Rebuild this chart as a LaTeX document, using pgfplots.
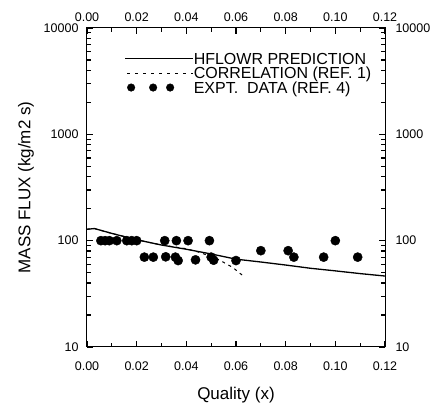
\documentclass[border=0pt]{standalone}
\usepackage{pgfplots}
\pgfplotsset{compat=1.18}
\usepackage{fontspec}
\setmainfont{Liberation Sans}
\pgfplotsset{
  common/.style={
    scale only axis, width=298pt, height=319pt,
    at={(0,0)}, anchor=south west,
    xmin=0, xmax=0.12, ymin=10, ymax=10000,
    xtick={0,0.02,...,0.12},
    minor xtick={0.01,0.03,...,0.11},
    log ticks with fixed point,
    /pgf/number format/1000 sep={},
    xtick align=inside, ytick align=inside,
    major tick length=6pt, minor tick length=4.5pt,
    /pgf/number format/assume math mode=true,
    xticklabel={\pgfmathprintnumber[fixed,fixed zerofill,precision=2]{\tick}},
    tick label style={font=\fontsize{12.5}{13}\selectfont},
    axis line style={line width=1pt},
    every tick/.append style={black, line width=1.2pt},
    every minor tick/.append style={black, line width=1.2pt},
    every major tick/.append style={black, line width=1.2pt},
  }
}
\begin{document}
\begin{tikzpicture}
\begin{semilogyaxis}[common,
  xlabel={Quality (x)},
  ylabel={MASS FLUX (kg/m2 s)},
  label style={font=\fontsize{17}{18}\selectfont},
  xlabel style={yshift=-10pt},
  ylabel style={yshift=3pt},
  xticklabel style={yshift=-11pt},
  yticklabel style={xshift=-5pt},
  legend style={at={(0.115,0.93)}, anchor=north west, draw=none, fill=none,
    font=\fontsize{16}{17}\selectfont, row sep=2.5pt,
    nodes={inner sep=0pt, text height=11.5pt, text depth=0.5pt}},
  legend cell align=left,
]
\addplot[black, line width=1.3pt, no marks,
  legend image code/.code={\draw[black,line width=1.3pt] (0pt,0pt) -- (68pt,0pt);}]
  coordinates {(0,128) (0.003,130) (0.01,117) (0.02,102) (0.03,91) (0.04,83)
  (0.05,75) (0.06,67) (0.07,63) (0.08,59) (0.09,55) (0.10,52) (0.11,49) (0.12,46.5)};
\addlegendentry{HFLOWR PREDICTION}
\addplot[black, line width=1pt, no marks, dash pattern=on 3pt off 4pt,
  legend image code/.code={\draw[black,line width=1pt,dash pattern=on 3pt off 5pt] (2pt,0pt) -- (68pt,0pt);}]
  coordinates {(0,128) (0.003,130) (0.01,117) (0.02,102) (0.03,91) (0.04,84)
  (0.045,78) (0.05,71) (0.0527,67) (0.0587,56) (0.0627,47)};
\addlegendentry{CORRELATION (REF. 1)}
\addplot[only marks, mark=*, mark size=4.6pt, black,
  legend image code/.code={
    \fill[black] (6pt,0pt) circle (3.8pt);
    \fill[black] (28pt,0pt) circle (3.8pt);
    \fill[black] (45pt,0pt) circle (3.8pt);}]
  coordinates {
  (0.0056,100) (0.0073,100) (0.009,100) (0.012,100) (0.016,100) (0.018,100) (0.020,100)
  (0.0313,100) (0.036,100) (0.0407,100) (0.0493,100) (0.100,100)
  (0.0231,70) (0.0267,70) (0.0317,70.5) (0.0356,70) (0.0367,65) (0.0437,66)
  (0.050,70) (0.051,65.5) (0.060,65) (0.070,80.5) (0.081,80.5) (0.0833,70)
  (0.0953,70) (0.109,70)};
\addlegendentry{EXPT.\ \ DATA (REF. 4)}
\end{semilogyaxis}
\begin{semilogyaxis}[common,
  xticklabel pos=upper, yticklabel pos=right,
  yticklabel style={xshift=7pt},
  xticklabel style={yshift=3pt},
]
\addplot[draw=none, no marks] coordinates {(0,100) (0.12,100)};
\end{semilogyaxis}
\pgfresetboundingbox
\useasboundingbox (-87pt,-57pt) rectangle (349pt,347pt);
\end{tikzpicture}
\end{document}
